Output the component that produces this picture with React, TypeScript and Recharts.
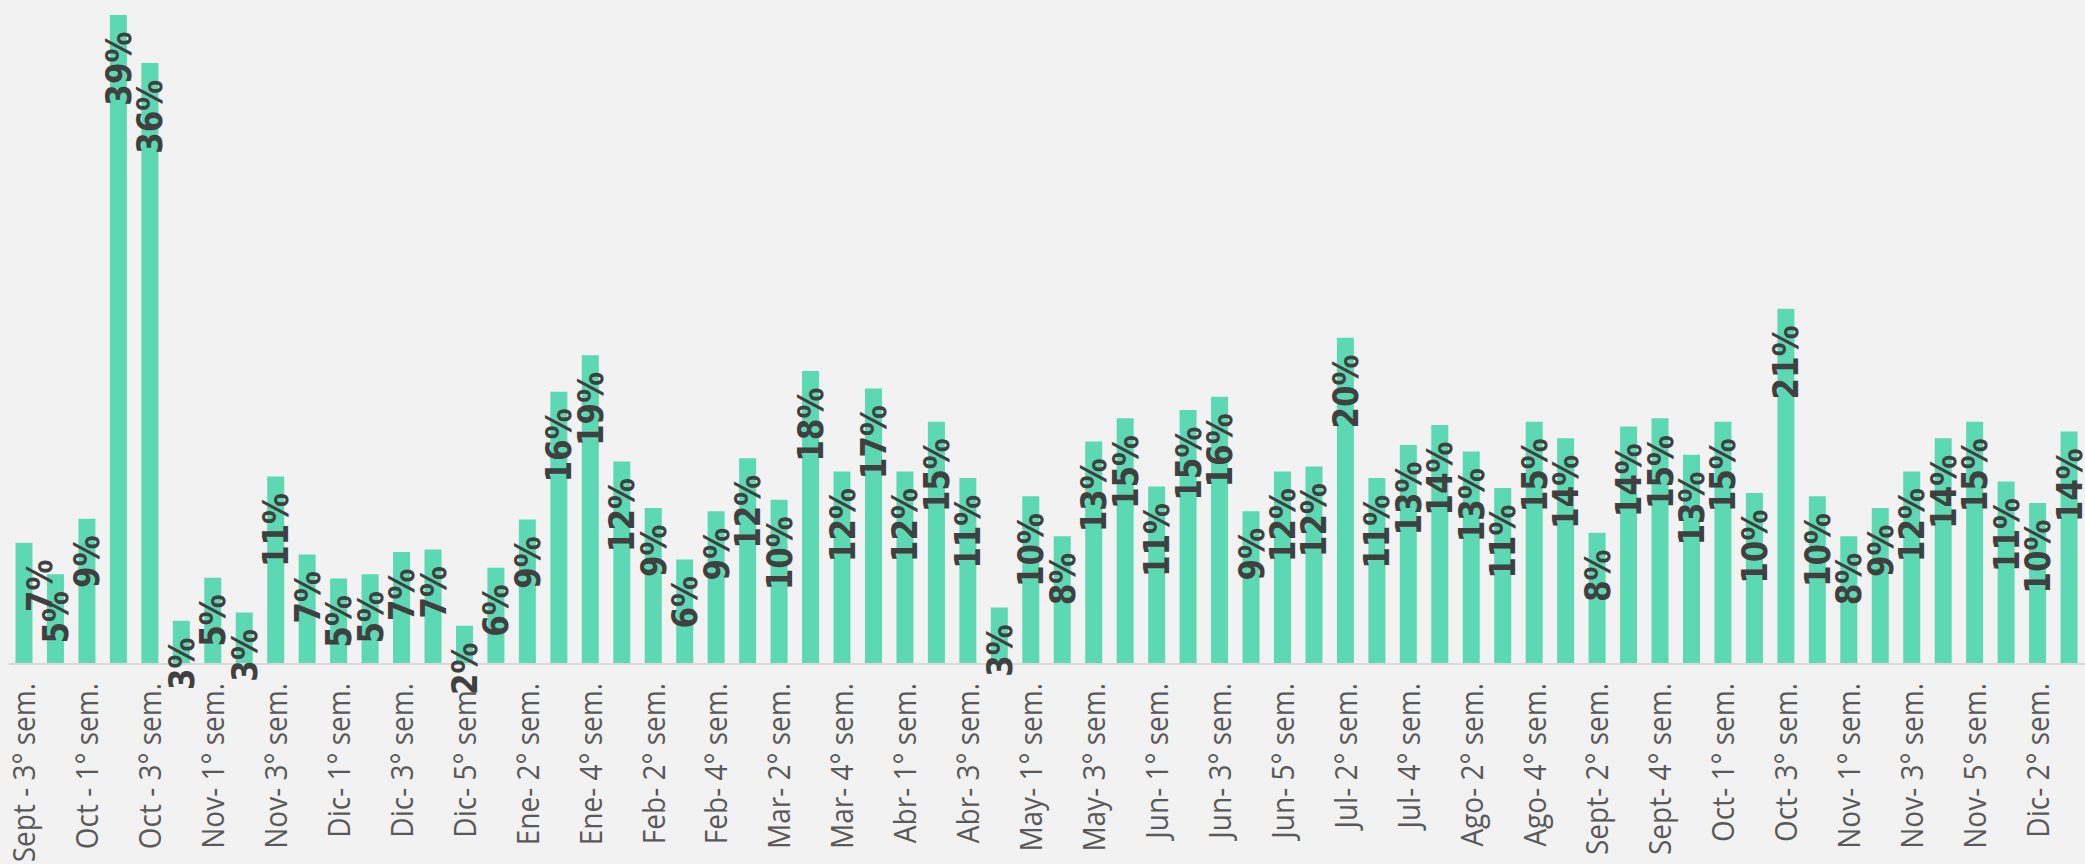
import React from 'react';
import { BarChart, Bar, XAxis, YAxis, LabelList } from 'recharts';

// semanas, una barra por semana (solo se rotula una de cada dos)
const weeks = [
    'Sept - 3° sem.', 'Sept - 4° sem.', 'Oct - 1° sem.', 'Oct - 2° sem.', 'Oct - 3° sem.', 'Oct - 4° sem.',
    'Nov- 1° sem.', 'Nov- 2° sem.', 'Nov- 3° sem.', 'Nov- 4° sem.',
    'Dic- 1° sem.', 'Dic- 2° sem.', 'Dic- 3° sem.', 'Dic- 4° sem.', 'Dic- 5° sem.',
    'Ene- 1° sem.', 'Ene- 2° sem.', 'Ene- 3° sem.', 'Ene- 4° sem.',
    'Feb- 1° sem.', 'Feb- 2° sem.', 'Feb- 3° sem.', 'Feb- 4° sem.',
    'Mar- 1° sem.', 'Mar- 2° sem.', 'Mar- 3° sem.', 'Mar- 4° sem.', 'Mar- 5° sem.',
    'Abr- 1° sem.', 'Abr- 2° sem.', 'Abr- 3° sem.', 'Abr- 4° sem.',
    'May- 1° sem.', 'May- 2° sem.', 'May- 3° sem.', 'May- 4° sem.',
    'Jun- 1° sem.', 'Jun- 2° sem.', 'Jun- 3° sem.', 'Jun- 4° sem.', 'Jun- 5° sem.',
    'Jul- 1° sem.', 'Jul- 2° sem.', 'Jul- 3° sem.', 'Jul- 4° sem.',
    'Ago- 1° sem.', 'Ago- 2° sem.', 'Ago- 3° sem.', 'Ago- 4° sem.',
    'Sept- 1° sem.', 'Sept- 2° sem.', 'Sept- 3° sem.', 'Sept- 4° sem.', 'Sept- 5° sem.',
    'Oct- 1° sem.', 'Oct- 2° sem.', 'Oct- 3° sem.', 'Oct- 4° sem.',
    'Nov- 1° sem.', 'Nov- 2° sem.', 'Nov- 3° sem.', 'Nov- 4° sem.', 'Nov- 5° sem.',
    'Dic- 1° sem.', 'Dic- 2° sem.', 'Dic- 3° sem.',
];

// porcentaje semanal (%)
const rates = [
    7.3, 5.4, 8.75, 39.1, 36.2, 2.6, 5.2, 3.1, 11.3, 6.6,
    5.15, 5.4, 6.75, 6.9, 2.3, 5.8, 8.7, 16.4, 18.6, 12.2,
    9.4, 6.3, 9.2, 12.4, 9.9, 17.65, 11.6, 16.6, 11.6, 14.6,
    11.2, 3.4, 10.1, 7.7, 13.4, 14.8, 10.7, 15.3, 16.1, 9.2,
    11.6, 11.9, 19.65, 11.2, 13.2, 14.4, 12.8, 10.6, 14.6, 13.6,
    7.9, 14.3, 14.8, 12.6, 14.6, 10.3, 21.4, 10.1, 7.7, 9.4,
    11.6, 13.6, 14.6, 11.0, 9.7, 14.0,
];

const data = weeks.map((w, i) => ({ week: w, rate: rates[i] }));

if (typeof document !== 'undefined') document.body.style.margin = '0';

const WeekTick = (props: any) => {
    const { x, y, payload } = props;
    return (
        <text
            transform={`translate(${x},${y + 19}) scale(1.1,1) rotate(-90)`}
            textAnchor="end"
            dy="0.36em"
            fontFamily="'Open Sans', sans-serif"
            fontSize={28}
            fill="#595959"
        >
            {payload.value}
        </text>
    );
};

const RateLabel = (props: any) => {
    const { x, y, width, value, index } = props;
    // la primera etiqueta viene corrida a la derecha en el original
    const shift = index === 0 ? 15 : 0;
    return (
        <text
            transform={`translate(${x + width / 2 + shift},${y + 16.5}) scale(1.12,1) rotate(-90)`}
            textAnchor="end"
            dy="0.36em"
            fontFamily="'DejaVu Sans', sans-serif"
            fontWeight="bold"
            fontSize={31}
            fill="#404040"
        >
            {Math.round(value)}%
        </text>
    );
};

export default function App() {
    return (
        <div style={{ width: 2085, height: 864, background: '#f2f2f2', overflow: 'hidden' }}>
            <BarChart
                width={2085}
                height={864}
                data={data}
                margin={{ top: 0, right: 0, bottom: 0, left: 8.5 }}
                barCategoryGap={7}
            >
                <XAxis
                    dataKey="week"
                    interval={1}
                    height={200}
                    tickLine={false}
                    tickSize={0}
                    tickMargin={0}
                    axisLine={{ stroke: '#d9d9d9', strokeWidth: 2 }}
                    tick={<WeekTick />}
                />
                <YAxis hide domain={[0, 40]} />
                <Bar dataKey="rate" fill="#5cd9b2" isAnimationActive={false}>
                    <LabelList dataKey="rate" content={<RateLabel />} />
                </Bar>
            </BarChart>
        </div>
    );
}
